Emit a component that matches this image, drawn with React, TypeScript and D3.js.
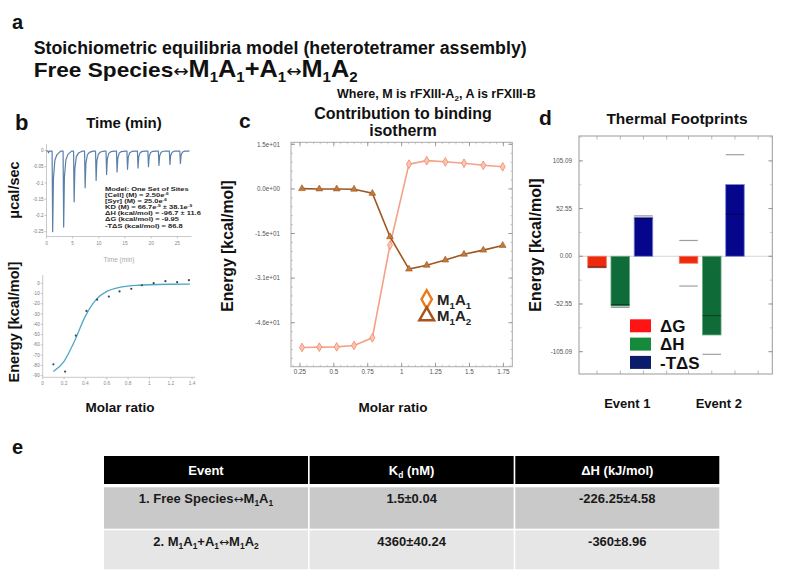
import React from "react";
import * as d3 from "d3";

const FONT = "'Liberation Sans', Arial, Helvetica, sans-serif";

// b (top): raw ITC thermogram
const INJ_TIME = [1.1, 3.2, 5.2, 7.3, 9.4, 11.4, 13.4, 15.4, 17.4, 19.4, 21.4, 23.5, 25.5];
const INJ_PEAK = [-0.25, -0.236, -0.158, -0.115, -0.092, -0.074, -0.066, -0.058, -0.054, -0.05, -0.046, -0.043, -0.04];
const ITC_END = 27.3;
const ITC_YTICKS = [0, -0.05, -0.1, -0.15, -0.2, -0.25];
const ITC_XTICKS = [0, 5, 10, 15, 20, 25];

// b (bottom): integrated heats + fit
const MR_X = [0.1, 0.21, 0.31, 0.41, 0.51, 0.62, 0.72, 0.83, 0.93, 1.04, 1.15, 1.26, 1.37];
const MR_Y = [-79, -86, -51, -27, -16, -13, -8, -5.5, -2, 0, 2, 1, 3];
const FIT_X = [0.1, 0.2, 0.3, 0.4, 0.5, 0.6, 0.7, 0.8, 0.9, 1.0, 1.2, 1.38];
const FIT_Y = [-86, -76, -56, -32, -16, -8, -4.5, -2.8, -2, -1.5, -1, -0.8];
const MR_XTICKS = [0, 0.2, 0.4, 0.6, 0.8, 1, 1.2, 1.4];
const MR_YTICKS = [0, -10, -20, -30, -40, -50, -60, -70, -80, -90];

// c: contribution to binding isotherm
const C_X = [0.265, 0.393, 0.521, 0.649, 0.784, 0.914, 1.054, 1.185, 1.322, 1.46, 1.602, 1.745];
const C_M1A1 = [-54.4, -54.3, -54.2, -53.7, -51.1, -19.3, 8.5, 9.7, 9.3, 8.8, 8.1, 7.6];
const C_M1A2 = [0.1, 0, 0, -0.1, -1.5, -16.4, -27.5, -26.2, -24.4, -22.4, -21.0, -19.4];
const C_YTICKS = [15.3, 0, -15.3, -30.6, -45.9];
const C_YLABELS = ["1.5e+01", "0.0e+00", "-1.5e+01", "-3.1e+01", "-4.6e+01"];
const C_XTICKS = [0.25, 0.5, 0.75, 1, 1.25, 1.5, 1.75];

// d: thermal footprints
const EVENTS = ["Event 1", "Event 2"];
const TERMS = ["ΔG", "ΔH", "-TΔS"];
const D_VAL = [[-12.1, -54.8, 43.0], [-7.7, -86.7, 79.1]];
const D_ERR = [[0.4, 1.5, 1.6], [25.1, 21.3, 32.8]];
const D_YTICKS = [105.09, 52.55, 0, -52.55, -105.09];
const BAR_FILL = ["#ee2a0e", "#0f6b37", "#06068c"];
const BAR_EDGE = ["#f2785c", "#6aa883", "#7d8ad6"];
const LEG_FILL = ["#ff1414", "#148a3a", "#0b1d6a"];

// e: table
const ARROW = "↔";
const T_HEAD = [[{ t: "Event" }], [{ t: "K" }, { t: "d", sub: true }, { t: " (nM)" }], [{ t: "ΔH (kJ/mol)" }]];
const T_EVENT = [
  [{ t: "1. Free Species" }, { t: ARROW, arrow: 12 }, { t: "M" }, { t: "1", sub: true }, { t: "A" }, { t: "1", sub: true }],
  [{ t: "2. M" }, { t: "1", sub: true }, { t: "A" }, { t: "1", sub: true }, { t: "+A" }, { t: "1", sub: true }, { t: ARROW, arrow: 12 }, { t: "M" }, { t: "1", sub: true }, { t: "A" }, { t: "2", sub: true }],
];
const T_KD = ["1.5±0.04", "4360±40.24"];
const T_DH = ["-226.25±4.58", "-360±8.96"];

type Seg = { t: string; sub?: boolean; sup?: boolean; arrow?: number; fs?: number };

function Rich({ x, y, size, segs, anchor = "start", fill = "#111", weight = "bold", rotate, len }: any) {
  let shift = 0;
  return (
    <text x={rotate ? 0 : x} y={rotate ? 0 : y} transform={rotate ? `translate(${x},${y}) rotate(-90)` : undefined}
      fontSize={size} textAnchor={anchor} fill={fill} fontWeight={weight}
      textLength={len} lengthAdjust={len ? "spacingAndGlyphs" : undefined}>
      {(segs as Seg[]).map((s, i) => {
        const target = s.sub ? size * 0.24 : s.sup ? -size * 0.38 : 0;
        const dy = target - shift;
        shift = target;
        const fs = s.fs || (s.sub || s.sup ? size * 0.65 : s.arrow);
        return (
          <tspan key={i} dy={dy || undefined} fontSize={fs || undefined}
            fontFamily={s.arrow ? "'DejaVu Sans', sans-serif" : undefined}
            fontWeight={s.arrow ? "normal" : undefined}>{s.t}</tspan>
        );
      })}
    </text>
  );
}

export default function App() {
  // ---- b top
  const xT = d3.scaleLinear().domain([0, 27.7]).range([46.5, 191.5]);
  const yT = d3.scaleLinear().domain([-0.265, 0.017]).range([236.5, 145]);
  const itcPts: [number, number][] = [[0, -0.001], [0.3, -0.002], [0.38, -0.007], [0.55, -0.002]];
  INJ_TIME.forEach((t, i) => {
    const p = INJ_PEAK[i];
    itcPts.push([t - 0.03, -0.002], [t + 0.08, p], [t + 0.22, p * 0.35], [t + 0.5, p * 0.12], [t + 0.9, p * 0.05], [t + 1.6, -0.002]);
  });
  itcPts.push([ITC_END, -0.001]);
  const itcLine = d3.line<[number, number]>().x(d => xT(d[0])).y(d => yT(d[1]))(itcPts) || "";

  // ---- b bottom
  const xB = d3.scaleLinear().domain([0, 1.43]).range([42.7, 195.3]);
  const yB = d3.scaleLinear().domain([-91.6, 8]).range([377.3, 275]);
  const fitPath = d3.line<number>().x((_, i) => xB(FIT_X[i])).y(d => yB(d)).curve(d3.curveMonotoneX)(FIT_Y) || "";

  // ---- c
  const xC = d3.scaleLinear().domain([0.184, 1.816]).range([291, 512.3]);
  const yC = d3.scaleLinear().domain([-61, 16]).range([366.7, 142.3]);
  const cLine = d3.line<number>().x((_, i) => xC(C_X[i])).y(d => yC(d));
  const cMinorX = d3.range(0.2, 1.81, 0.05);
  const cMinorY = d3.range(-61.2, 16, 3.06);

  // ---- d
  const yD = d3.scaleLinear().domain([-129.7, 132.5]).range([374, 136]);
  const xD = d3.scaleBand<string>().domain(EVENTS).range([574.5, 757.5]);
  const xS = d3.scaleBand<string>().domain(TERMS).range([-32.5, 32.5]).paddingInner(0.2);
  const dTickX: number[] = [];
  EVENTS.forEach(e => TERMS.forEach(s => dTickX.push((xD(e) || 0) + xD.bandwidth() / 2 + (xS(s) || 0) + xS.bandwidth() / 2)));
  const slot = dTickX[1] - dTickX[0];
  dTickX.push(dTickX[2] + slot, dTickX[5] + slot);
  const dMinorY = d3.range(-131.4, 132, 26.27);

  // ---- e
  const col = d3.scaleBand<number>().domain([0, 1, 2]).range([104, 719.3]).paddingInner(0.008);
  const ROWS = [[456, 484], [487.3, 528.7], [530.3, 569.3]];
  const ROW_FILL = ["#000", "#c9c9c9", "#e6e6e6"];

  const itcText: Seg[][] = [
    [{ t: "Model:  One Set of Sites" }],
    [{ t: "[Cell] (M) = 2.50e" }, { t: "-6", sup: true }],
    [{ t: "[Syr] (M) = 25.0e" }, { t: "-6", sup: true }],
    [{ t: "KD (M) = 66.7e" }, { t: "-9", sup: true }, { t: " ± 38.1e" }, { t: "-9", sup: true }],
    [{ t: "ΔH (kcal/mol) = -96.7 ± 11.6" }],
    [{ t: "ΔG (kcal/mol) = -9.95" }],
    [{ t: "-TΔS (kcal/mol) = 86.8" }],
  ];

  const SUB = { sub: true, fs: 14 };
  const BIG = 23.5;

  return (
    <svg width={786} height={582} style={{ position: "absolute", left: 0, top: 0, background: "#fff" }} fontFamily={FONT}>
      <rect width={786} height={582} fill="#fff" />

      {/* a */}
      <text x={12} y={28.5} fontSize={20} fontWeight="bold" fill="#111">a</text>
      <text x={33.7} y={53.5} fontSize={18} fontWeight="bold" fill="#111" textLength={493} lengthAdjust="spacingAndGlyphs">
        Stoichiometric equilibria model (heterotetramer assembly)
      </text>
      <Rich x={33.7} y={77} size={21} len={324} segs={[
        { t: "Free Species" }, { t: ARROW, arrow: 17 },
        { t: "M", fs: BIG }, { t: "1", ...SUB }, { t: "A", fs: BIG }, { t: "1", ...SUB },
        { t: "+A", fs: BIG }, { t: "1", ...SUB }, { t: ARROW, arrow: 17 },
        { t: "M", fs: BIG }, { t: "1", ...SUB }, { t: "A", fs: BIG }, { t: "2", ...SUB },
      ]} />
      <Rich x={337} y={98} size={12.5} segs={[{ t: "Where, M is rFXIII-A" }, { t: "2", sub: true }, { t: ", A is rFXIII-B" }]} />

      {/* b */}
      <text x={15} y={130} fontSize={22} fontWeight="bold" fill="#111">b</text>
      <text x={124} y={128} fontSize={15} fontWeight="bold" textAnchor="middle" fill="#111">Time (min)</text>
      <Rich x={19} y={190} size={14.5} anchor="middle" rotate segs={[{ t: "μcal/sec" }]} />
      <g>
        <line x1={xT(0)} x2={xT(0)} y1={144} y2={236.5} stroke="#bbb" strokeWidth={0.8} />
        <line x1={xT(0)} x2={191.5} y1={236.5} y2={236.5} stroke="#bbb" strokeWidth={0.8} />
        {ITC_YTICKS.map(v => (
          <g key={v}>
            <line x1={xT(0) - 2} x2={xT(0)} y1={yT(v)} y2={yT(v)} stroke="#aaa" strokeWidth={0.7} />
            <text x={xT(0) - 3} y={yT(v) + 1.6} fontSize={4.6} textAnchor="end" fill="#777">{v}</text>
          </g>
        ))}
        {ITC_XTICKS.map(v => (
          <g key={v}>
            <line x1={xT(v)} x2={xT(v)} y1={236.5} y2={238.5} stroke="#aaa" strokeWidth={0.7} />
            <text x={xT(v)} y={245} fontSize={4.8} textAnchor="middle" fill="#888">{v}</text>
          </g>
        ))}
        <text x={119} y={262} fontSize={6.5} textAnchor="middle" fill="#aaa">Time (min)</text>
        <path d={itcLine} fill="none" stroke="#5a7fa8" strokeWidth={1.2} strokeLinejoin="round" />
        <g transform="translate(105,0) scale(1.25,1)">
          {itcText.map((segs, i) => (
            <Rich key={i} x={0} y={191 + i * 6.1} size={6} fill="#222" segs={segs} />
          ))}
        </g>
      </g>

      <Rich x={19} y={322} size={14.5} anchor="middle" rotate segs={[{ t: "Energy [kcal/mol]" }]} />
      <g>
        <line x1={xB(0)} x2={xB(0)} y1={275} y2={377.3} stroke="#bbb" strokeWidth={0.8} />
        <line x1={xB(0)} x2={195.3} y1={377.3} y2={377.3} stroke="#bbb" strokeWidth={0.8} />
        {MR_YTICKS.map(v => (
          <g key={v}>
            <line x1={xB(0) - 2} x2={xB(0)} y1={yB(v)} y2={yB(v)} stroke="#aaa" strokeWidth={0.7} />
            <text x={xB(0) - 3} y={yB(v) + 1.6} fontSize={4.6} textAnchor="end" fill="#777">{v}</text>
          </g>
        ))}
        {MR_XTICKS.map(v => (
          <g key={v}>
            <line x1={xB(v)} x2={xB(v)} y1={377.3} y2={379.3} stroke="#aaa" strokeWidth={0.7} />
            <text x={xB(v)} y={385} fontSize={4.8} textAnchor="middle" fill="#888">{v}</text>
          </g>
        ))}
        <path d={fitPath} fill="none" stroke="#4fa8c0" strokeWidth={1.3} />
        {MR_X.map((x, i) => (
          <circle key={i} cx={xB(x)} cy={yB(MR_Y[i])} r={1.1} fill="#2d4a66" />
        ))}
      </g>
      <text x={120} y={412} fontSize={13.5} fontWeight="bold" textAnchor="middle" fill="#111">Molar ratio</text>

      {/* c */}
      <text x={239} y={128} fontSize={21} fontWeight="bold" fill="#111">c</text>
      <text x={403} y={119} fontSize={16} fontWeight="bold" textAnchor="middle" fill="#111">Contribution to binding</text>
      <text x={403} y={136} fontSize={16} fontWeight="bold" textAnchor="middle" fill="#111">isotherm</text>
      <Rich x={233} y={246} size={15.8} anchor="middle" rotate segs={[{ t: "Energy [kcal/mol]" }]} />
      <g>
        <rect x={291} y={142.3} width={512.3 - 291} height={366.7 - 142.3} fill="#fff" stroke="#aaa" strokeWidth={1} />
        {cMinorX.map((v, i) => (
          <g key={i} stroke="#aaa" strokeWidth={0.6}>
            <line x1={xC(v)} x2={xC(v)} y1={142.3} y2={144.3} />
            <line x1={xC(v)} x2={xC(v)} y1={366.7} y2={364.7} />
          </g>
        ))}
        {cMinorY.filter(v => v > -61 && v < 16).map((v, i) => (
          <g key={i} stroke="#aaa" strokeWidth={0.6}>
            <line x1={291} x2={293} y1={yC(v)} y2={yC(v)} />
            <line x1={512.3} x2={510.3} y1={yC(v)} y2={yC(v)} />
          </g>
        ))}
        {C_YTICKS.map((v, i) => (
          <g key={v}>
            <line x1={291} x2={295} y1={yC(v)} y2={yC(v)} stroke="#888" strokeWidth={0.8} />
            <line x1={512.3} x2={508.3} y1={yC(v)} y2={yC(v)} stroke="#888" strokeWidth={0.8} />
            <text x={280} y={yC(v) + 2.2} fontSize={6.3} textAnchor="end" fill="#555">{C_YLABELS[i]}</text>
          </g>
        ))}
        {C_XTICKS.map(v => (
          <g key={v}>
            <line x1={xC(v)} x2={xC(v)} y1={366.7} y2={362.7} stroke="#888" strokeWidth={0.8} />
            <line x1={xC(v)} x2={xC(v)} y1={142.3} y2={146.3} stroke="#888" strokeWidth={0.8} />
            <text x={xC(v)} y={374} fontSize={6.3} textAnchor="middle" fill="#555">{v}</text>
          </g>
        ))}
        <path d={cLine(C_M1A1) || ""} fill="none" stroke="#f6a086" strokeWidth={1.6} />
        <path d={cLine(C_M1A2) || ""} fill="none" stroke="#9e5620" strokeWidth={1.6} />
        {C_X.map((x, i) => (
          <g key={i}>
            <path d={d3.symbol(d3.symbolDiamond, 22)() || ""} transform={`translate(${xC(x)},${yC(C_M1A1[i])})`}
              fill="#fbc4b0" stroke="#f08a6a" strokeWidth={0.8} />
            <path d={d3.symbol(d3.symbolTriangle, 20)() || ""} transform={`translate(${xC(x)},${yC(C_M1A2[i])})`}
              fill="#c07a3a" stroke="#9e5620" strokeWidth={0.6} />
          </g>
        ))}
        <path d={d3.symbol(d3.symbolDiamond, 95)() || ""} transform="translate(426.7,299.3)" fill="#fff" stroke="#ec7a1c" strokeWidth={2.4} />
        <path d={d3.symbol(d3.symbolTriangle, 95)() || ""} transform="translate(426.7,316)" fill="#fff" stroke="#a8531b" strokeWidth={2.4} />
        <Rich x={437} y={305} size={15} fill="#222" segs={[{ t: "M" }, { t: "1", sub: true }, { t: "A" }, { t: "1", sub: true }]} />
        <Rich x={437} y={321} size={15} fill="#222" segs={[{ t: "M" }, { t: "1", sub: true }, { t: "A" }, { t: "2", sub: true }]} />
      </g>
      <text x={393} y={412} fontSize={13.5} fontWeight="bold" textAnchor="middle" fill="#111">Molar ratio</text>

      {/* d */}
      <text x={539} y={125} fontSize={21} fontWeight="bold" fill="#111">d</text>
      <text x={677} y={124} fontSize={15.5} fontWeight="bold" textAnchor="middle" fill="#111">Thermal Footprints</text>
      <Rich x={541} y={245} size={16} anchor="middle" rotate segs={[{ t: "Energy [kcal/mol]" }]} />
      <g>
        <rect x={579} y={136} width={772.3 - 579} height={374 - 136} fill="#fff" stroke="#999" strokeWidth={1} />
        <line x1={579} x2={772.3} y1={yD(0)} y2={yD(0)} stroke="#ccc" strokeWidth={0.8} />
        {dMinorY.filter(v => v > -129 && v < 132).map((v, i) => (
          <g key={i} stroke="#aaa" strokeWidth={0.6}>
            <line x1={579} x2={581.5} y1={yD(v)} y2={yD(v)} />
            <line x1={772.3} x2={769.8} y1={yD(v)} y2={yD(v)} />
          </g>
        ))}
        {D_YTICKS.map(v => (
          <g key={v}>
            <line x1={579} x2={583} y1={yD(v)} y2={yD(v)} stroke="#888" strokeWidth={0.8} />
            <line x1={772.3} x2={768.3} y1={yD(v)} y2={yD(v)} stroke="#888" strokeWidth={0.8} />
            <text x={572} y={yD(v) + 2.2} fontSize={6.3} textAnchor="end" fill="#555">{v.toFixed(2)}</text>
          </g>
        ))}
        {dTickX.map((x, i) => (
          <g key={i} stroke="#999" strokeWidth={0.7}>
            <line x1={x} x2={x} y1={374} y2={370.5} />
            <line x1={x} x2={x} y1={136} y2={139.5} />
          </g>
        ))}
        {EVENTS.map((e, ei) => TERMS.map((s, si) => {
          const x0 = (xD(e) || 0) + xD.bandwidth() / 2 + (xS(s) || 0);
          const v = D_VAL[ei][si];
          const err = D_ERR[ei][si];
          return (
            <g key={e + s}>
              <rect x={x0} width={xS.bandwidth()} y={yD(Math.max(0, v))} height={Math.abs(yD(v) - yD(0))}
                fill={BAR_FILL[si]} stroke={BAR_EDGE[si]} strokeWidth={0.8} />
              <line x1={x0} x2={x0 + xS.bandwidth()} y1={yD(v + err)} y2={yD(v + err)} stroke="#000" strokeOpacity={0.38} strokeWidth={1.2} />
              <line x1={x0} x2={x0 + xS.bandwidth()} y1={yD(v - err)} y2={yD(v - err)} stroke="#000" strokeOpacity={0.38} strokeWidth={1.2} />
            </g>
          );
        }))}
        {TERMS.map((s, i) => (
          <g key={s}>
            <rect x={630} y={319.3 + i * 18.3} width={21} height={13} fill={LEG_FILL[i]} />
            <text x={660} y={332 + i * 18.3} fontSize={17} fontWeight="bold" fill="#111">{s}</text>
          </g>
        ))}
      </g>
      {EVENTS.map(e => (
        <text key={e} x={(xD(e) || 0) + xD.bandwidth() / 2 + 7} y={408} fontSize={13} fontWeight="bold" textAnchor="middle" fill="#111">{e}</text>
      ))}

      {/* e */}
      <text x={12} y={454} fontSize={20} fontWeight="bold" fill="#111">e</text>
      {ROWS.map((r, ri) => [0, 1, 2].map(ci => (
        <rect key={ri + "-" + ci} x={col(ci)} width={col.bandwidth()} y={r[0]} height={r[1] - r[0]} fill={ROW_FILL[ri]} />
      )))}
      {T_HEAD.map((segs, ci) => (
        <Rich key={ci} x={(col(ci) || 0) + col.bandwidth() / 2} y={475} size={13} anchor="middle" fill="#fff" segs={segs} />
      ))}
      {T_EVENT.map((segs, ri) => (
        <g key={ri}>
          <Rich x={(col(0) || 0) + col.bandwidth() / 2} y={ROWS[ri + 1][0] + 16} size={13} anchor="middle" fill="#1a1a1a" segs={segs} />
          <text x={(col(1) || 0) + col.bandwidth() / 2} y={ROWS[ri + 1][0] + 16} fontSize={13} fontWeight="bold" textAnchor="middle" fill="#1a1a1a">{T_KD[ri]}</text>
          <text x={(col(2) || 0) + col.bandwidth() / 2} y={ROWS[ri + 1][0] + 16} fontSize={13} fontWeight="bold" textAnchor="middle" fill="#1a1a1a">{T_DH[ri]}</text>
        </g>
      ))}
    </svg>
  );
}
